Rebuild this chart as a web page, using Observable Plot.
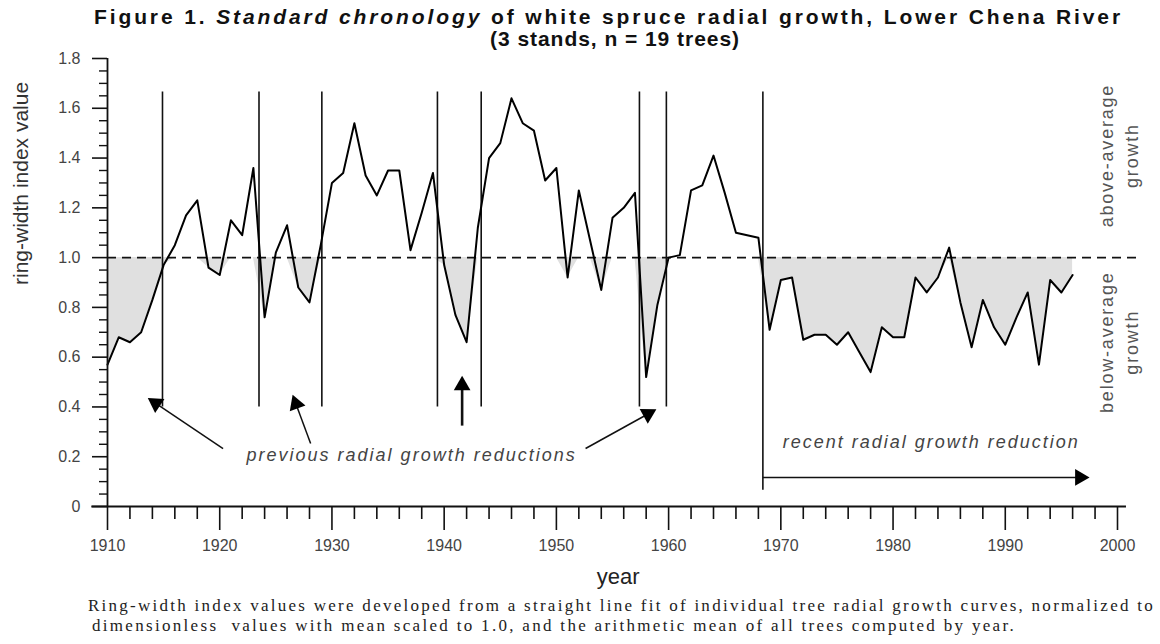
<!DOCTYPE html>
<html>
<head>
<meta charset="utf-8">
<script src="https://cdn.jsdelivr.net/npm/d3@7"></script>
<script src="https://cdn.jsdelivr.net/npm/@observablehq/plot@0.6"></script>
<style>
  html, body { margin: 0; padding: 0; background: #fff; }
  body { width: 1160px; height: 644px; overflow: hidden; font-family: "Liberation Sans", Arial, sans-serif; }
  #title { position: relative; height: 50px; }
  #title div { position: absolute; transform: translateX(-50%); white-space: nowrap; font-weight: bold; font-size: 21px; color: #111; line-height: 21px; }
  #chart { height: 545px; }
  #chart svg { overflow: visible; display: block; }
  #caption { position: relative; height: 49px; font-family: "Liberation Serif", "Times New Roman", serif; font-size: 17px; color: #222; }
  #caption div { position: absolute; white-space: nowrap; line-height: 20px; }
</style>
</head>
<body>
<div id="title">
  <div id="t1" style="left:608px; top:6px;">Figure 1. <i>Standard chronology</i> of white spruce radial growth, Lower Chena River</div>
  <div id="t2" style="left:613px; top:28px;">(3 stands, n = 19 trees)</div>
</div>
<div id="chart"></div>
<div id="caption">
  <div id="c1" style="left:88px; top:1px;">Ring-width index values were developed from a straight line fit of individual tree radial growth curves, normalized to</div>
  <div id="c2" style="left:92px; top:21px;">dimensionless&nbsp; values with mean scaled to 1.0, and the arithmetic mean of all trees computed by year.</div>
</div>
<script>
// ---- data ----
const firstYear = 1910;
const ringWidthIndex = [
  0.57, 0.68, 0.66, 0.70, 0.83, 0.97, 1.05, 1.17, 1.23, 0.96,
  0.93, 1.15, 1.09, 1.36, 0.76, 1.02, 1.13, 0.88, 0.82, 1.05,
  1.30, 1.34, 1.54, 1.33, 1.25, 1.35, 1.35, 1.03, 1.18, 1.34,
  0.97, 0.77, 0.66, 1.12, 1.40, 1.46, 1.64, 1.54, 1.51, 1.31,
  1.36, 0.92, 1.27, 1.07, 0.87, 1.16, 1.20, 1.26, 0.52, 0.81,
  1.00, 1.01, 1.27, 1.29, 1.41, 1.26, 1.10, 1.09, 1.08, 0.71,
  0.91, 0.92, 0.67, 0.69, 0.69, 0.65, 0.70, 0.62, 0.54, 0.72,
  0.68, 0.68, 0.92, 0.86, 0.92, 1.04, 0.82, 0.64, 0.83, 0.72,
  0.65, 0.76, 0.86, 0.57, 0.91, 0.86, 0.93
];
const xMajorTicks = [1910, 1920, 1930, 1940, 1950, 1960, 1970, 1980, 1990, 2000];
const yMajorTicks = [0, 0.2, 0.4, 0.6, 0.8, 1.0, 1.2, 1.4, 1.6, 1.8];
const yTickLabels = ["0", "0.2", "0.4", "0.6", "0.8", "1.0", "1.2", "1.4", "1.6", "1.8"];
const previousReductionYears = [1914.9, 1923.5, 1929.1, 1939.4, 1943.3, 1957.4, 1959.8];
const recentReductionYear = 1968.4;
const meanLevel = 1.0;
// annotation arrows (data coordinates): tail -> head tip
const arrows = [
  {x1: 1920.3, y1: 0.233, x2: 1913.6, y2: 0.436},
  {x1: 1928.1, y1: 0.253, x2: 1926.5, y2: 0.448},
  {x1: 1941.6, y1: 0.325, x2: 1941.6, y2: 0.525},
  {x1: 1952.6, y1: 0.233, x2: 1958.9, y2: 0.39},
  {x1: 1968.4, y1: 0.117, x2: 1997.5, y2: 0.117}
];
const notes = [
  {x: 1937.1, y: 0.205, text: "previous radial growth reductions"},
  {x: 1983.4, y: 0.257, text: "recent radial growth reduction"}
];
const sideLabels = [
  {x: 2000, y: 1.41, text: "above-average\ngrowth"},
  {x: 2000, y: 0.66, text: "below-average\ngrowth"}
];

const series = ringWidthIndex.map((v, i) => ({year: firstYear + i, value: v}));
const xMinorTicks = d3.range(1912, 2000, 2).filter(d => d % 10 !== 0);
const yMinorTicks = d3.range(1, 36).map(i => i * 0.05).filter((d, i) => (i + 1) % 4 !== 0);

// ---- layout ----
const W = 1160, H = 545, ML = 107, MR = 43, MT = 8, MB = 89;
const kx = (W - ML - MR) / (2000 - 1910);
const ky = (H - MT - MB) / 1.8;
const HEAD = 9.5; // centroid-to-apex distance (px)
const heads = arrows.map(a => {
  const dxp = (a.x2 - a.x1) * kx, dyp = -(a.y2 - a.y1) * ky;
  const len = Math.hypot(dxp, dyp);
  return {
    x: a.x2 - (dxp / len) * HEAD / kx,
    y: a.y2 + (dyp / len) * HEAD / ky,
    rot: Math.atan2(dxp, -dyp) * 180 / Math.PI,
    sx: a.x1, sy: a.y1
  };
});

const chart = Plot.plot({
  width: W, height: H,
  marginLeft: ML, marginRight: MR, marginTop: MT, marginBottom: MB,
  x: {domain: [1910, 2000], axis: null},
  y: {domain: [0, 1.8], axis: null},
  style: {fontFamily: "'Liberation Sans', Arial, sans-serif", background: "white", color: "#222", overflow: "visible"},
  marks: [
    Plot.areaY(series, {x: "year", y1: d => Math.min(d.value, meanLevel), y2: meanLevel, fill: "#e0e0e0"}),
    Plot.ruleY([meanLevel], {x1: 1910, x2: 2002, strokeDasharray: "9,6", strokeWidth: 1.6, stroke: "#111"}),
    Plot.ruleX(previousReductionYears, {y1: 0.4, y2: 1.665, strokeWidth: 1.6, stroke: "#111"}),
    Plot.ruleX([recentReductionYear], {y1: 0.065, y2: 1.665, strokeWidth: 1.6, stroke: "#111"}),
    Plot.line(series, {x: "year", y: "value", stroke: "#000", strokeWidth: 2}),
    // axes
    Plot.ruleX([1910], {y1: 0, y2: 1.8, strokeWidth: 1.8, stroke: "#111"}),
    Plot.ruleY([0], {x1: 1908.6, x2: 2000.8, strokeWidth: 1.8, stroke: "#111"}),
    Plot.axisX(xMajorTicks, {tickSize: 24, tickPadding: 9, fontSize: 16, fill: "#444", stroke: "#111", strokeWidth: 1.6, tickFormat: d => String(d)}),
    Plot.axisX(xMinorTicks, {tickSize: 13, stroke: "#111", strokeWidth: 1.6, tickFormat: () => ""}),
    Plot.axisY(yMajorTicks, {tickSize: 15, tickPadding: 12, fontSize: 16, fill: "#444", stroke: "#111", strokeWidth: 1.6, tickFormat: d => yTickLabels[yMajorTicks.indexOf(d)]}),
    Plot.axisY(yMinorTicks, {tickSize: 8, stroke: "#111", strokeWidth: 1.4, tickFormat: () => ""}),
    // axis titles
    Plot.text(["ring-width index value"], {x: 1910, y: 1.298, dx: -86, rotate: -90, fontSize: 21, fill: "#333"}),
    Plot.text(["year"], {x: 1955.5, y: -0.285, fontSize: 22, fill: "#222"}),
    // side labels
    Plot.text(sideLabels, {x: "x", y: "y", text: "text", rotate: -90, fontSize: 18, lineHeight: 1.4, fill: "#555"}),
    // annotations
    Plot.link(heads, {x1: "sx", y1: "sy", x2: "x", y2: "y", stroke: "#111", strokeWidth: (d, i) => i === 2 ? 2.6 : 1.5}),
    Plot.dot(heads, {x: "x", y: "y", symbol: "triangle", r: 6.2, fill: "#000", stroke: "none", rotate: "rot"}),
    Plot.text(notes, {x: "x", y: "y", text: "text", fontSize: 18, fontStyle: "italic", fill: "#444"})
  ]
});
const svg = d3.select(chart);
svg.selectAll("text").filter(function() { return /radial growth/.test(this.textContent); }).attr("letter-spacing", "2px");
svg.selectAll("text").filter(function() { return /average/.test(this.textContent); }).attr("letter-spacing", "1.8px");
document.getElementById("chart").appendChild(chart);

// fit HTML text lines to the extents they occupy in the reference
function fit(id, left, right, centered) {
  const el = document.getElementById(id);
  el.style.letterSpacing = "0px";
  const w = el.getBoundingClientRect().width;
  const n = el.textContent.length;
  el.style.letterSpacing = ((right - left) - w) / n + "px";
  el.style.left = (centered ? (left + right) / 2 : left) + "px";
}
fit("t1", 94, 1123, true);
fit("t2", 490, 740, true);
fit("c1", 88, 1155, false);
fit("c2", 92, 1016, false);
</script>
</body>
</html>
